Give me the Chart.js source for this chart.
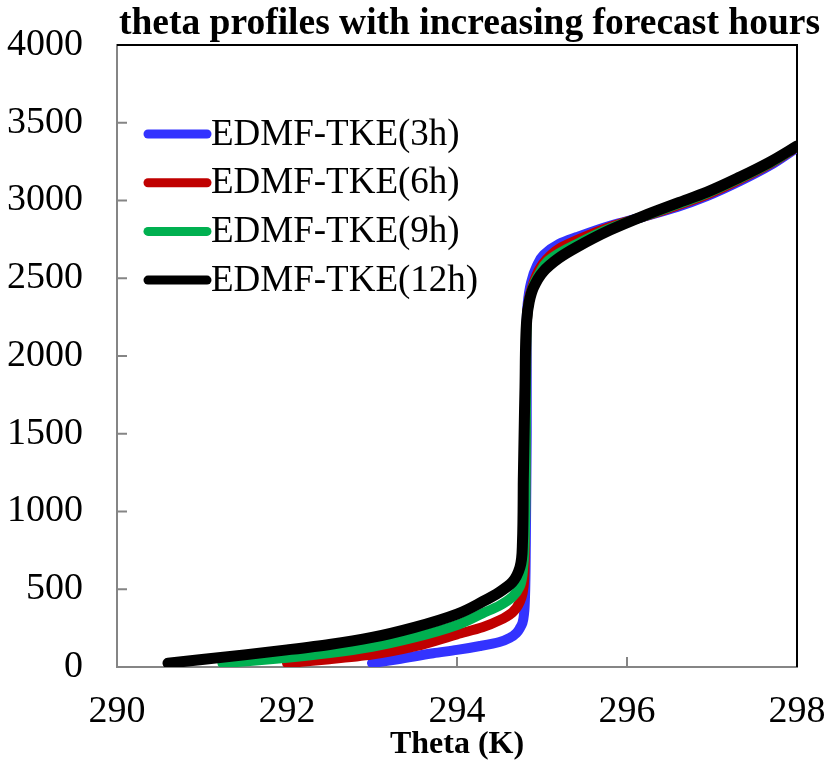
<!DOCTYPE html>
<html>
<head>
<meta charset="utf-8">
<script src="https://cdn.jsdelivr.net/npm/chart.js@4.4.1/dist/chart.umd.min.js"></script>
<style>
  html, body { margin: 0; padding: 0; background: #fff; }
  #wrap { width: 825px; height: 761px; position: relative; }
</style>
</head>
<body>
<div id="wrap"><canvas id="thetaChart"></canvas></div>
<script>
// profiles: theta (K) against height (m)
const seriesNames  = ['EDMF-TKE(3h)', 'EDMF-TKE(6h)', 'EDMF-TKE(9h)', 'EDMF-TKE(12h)'];
const seriesColors = ['#3333ff', '#c00000', '#00b050', '#000000'];

const theta3h  = [293.0,293.3,293.72,294.0,294.27,294.5,294.63,294.7,294.74,294.77,294.79,294.8,294.81,294.82,294.82,294.82,294.83,294.87,294.94,295.02,295.2,295.41,295.8,296.19,296.59,296.94,297.33,297.68,298.0];
const height3h = [25,50,88,110,135,161,190,219,250,283,350,450,800,1500,2150,2200,2330,2470,2580,2650,2720,2765,2838,2895,2958,3028,3125,3225,3340];

const theta6h  = [292.0,292.5,293.0,293.5,294.0,294.3,294.5,294.65,294.74,294.79,294.8,294.81,294.82,294.85,294.9,294.97,295.05,295.2,295.41,295.8,296.19,296.59,296.94,297.33,297.68,298.0];
const height6h = [25,50,80,132,210,255,300,350,420,560,900,1500,2200,2370,2470,2560,2620,2690,2745,2830,2895,2968,3038,3136,3235,3345];

const theta9h  = [291.24,291.6,292.0,292.5,293.0,293.5,294.0,294.3,294.5,294.65,294.74,294.78,294.8,294.81,294.82,294.85,294.9,294.98,295.05,295.2,295.41,295.8,296.19,296.59,296.94,297.33,297.68,298.0];
const height9h = [25,40,60,90,130,190,270,345,395,450,520,650,900,1500,2200,2360,2455,2540,2600,2660,2720,2820,2897,2975,3046,3143,3240,3348];

const theta12h  = [290.6,291.0,291.5,292.0,292.5,293.0,293.5,294.0,294.3,294.5,294.65,294.74,294.77,294.78,294.8,294.82,294.85,294.9,295.01,295.2,295.41,295.8,296.19,296.59,296.94,297.33,297.68,298.0];
const height12h = [25,48,78,110,145,190,255,340,420,482,545,640,800,1200,1800,2230,2350,2440,2540,2630,2700,2810,2900,2983,3054,3151,3247,3350];

const xTickVals = [290, 292, 294, 296, 298];
const yTickVals = [0, 500, 1000, 1500, 2000, 2500, 3000, 3500, 4000];

const SERIF = "'Liberation Serif', 'Times New Roman', serif";
const AXIS_GREY = '#858585';

function toPoints(th, hg) {
  return th.map((t, i) => ({ x: t, y: hg[i] }));
}

const profiles = [
  [theta3h, height3h],
  [theta6h, height6h],
  [theta9h, height9h],
  [theta12h, height12h]
];

const datasets = profiles.map((p, i) => ({
  label: seriesNames[i],
  data: toPoints(p[0], p[1]),
  borderColor: seriesColors[i],
  backgroundColor: seriesColors[i],
  borderWidth: i === 3 ? 11 : 10,
  borderCapStyle: 'round',
  borderJoinStyle: 'round',
  pointRadius: 0,
  cubicInterpolationMode: 'monotone',
  fill: false,
  order: 4 - i   // 12h ends up on top
}));

// box: grey left/bottom axes, black top/right edges, inward tick marks
const framePlugin = {
  id: 'frame',
  beforeDatasetsDraw(chart) {
    const { ctx, chartArea: a, scales } = chart;
    ctx.save();
    ctx.lineWidth = 2;
    ctx.strokeStyle = AXIS_GREY;
    ctx.beginPath();
    xTickVals.forEach(v => {
      const px = scales.x.getPixelForValue(v);
      if (px <= a.left + 1 || px >= a.right - 1) return;
      ctx.moveTo(px, a.bottom);
      ctx.lineTo(px, a.bottom - 10);
    });
    yTickVals.forEach(v => {
      const py = scales.y.getPixelForValue(v);
      if (py >= a.bottom - 1 || py <= a.top + 1) return;
      ctx.moveTo(a.left, py);
      ctx.lineTo(a.left + 10, py);
    });
    ctx.stroke();
    ctx.strokeStyle = '#000';
    ctx.beginPath();
    ctx.moveTo(a.left, a.top);
    ctx.lineTo(a.right, a.top);
    ctx.lineTo(a.right, a.bottom);
    ctx.stroke();
    ctx.restore();
  }
};

const titlePlugin = {
  id: 'topTitle',
  afterDraw(chart) {
    const ctx = chart.ctx;
    ctx.save();
    ctx.font = 'bold 37.5px ' + SERIF;
    ctx.fillStyle = '#000';
    ctx.textAlign = 'right';
    ctx.textBaseline = 'alphabetic';
    ctx.fillText('theta profiles with increasing forecast hours', 820, 34);
    ctx.restore();
  }
};

const legendPlugin = {
  id: 'innerLegend',
  afterDraw(chart) {
    const { ctx, chartArea: a } = chart;
    const x0 = a.left + 31, x1 = a.left + 90;
    const y0 = a.top + 89, gap = 48.7;
    ctx.save();
    ctx.font = '37px ' + SERIF;
    ctx.textBaseline = 'middle';
    ctx.textAlign = 'left';
    chart.data.datasets.forEach((ds, i) => {
      const y = y0 + i * gap;
      ctx.strokeStyle = ds.borderColor;
      ctx.lineWidth = 9;
      ctx.lineCap = 'round';
      ctx.beginPath();
      ctx.moveTo(x0, y);
      ctx.lineTo(x1, y);
      ctx.stroke();
      ctx.fillStyle = '#000';
      ctx.fillText(ds.label, x1 + 4, y + 1);
    });
    ctx.restore();
  }
};

new Chart(document.getElementById('thetaChart'), {
  type: 'line',
  data: { datasets },
  options: {
    indexAxis: 'y',   // height is the independent coordinate
    responsive: true,
    maintainAspectRatio: false,
    animation: false,
    layout: { padding: { top: 45, right: 28, left: 0, bottom: 0 } },
    plugins: {
      legend: { display: false },
      title: { display: false },
      tooltip: { enabled: false }
    },
    scales: {
      x: {
        type: 'linear',
        min: 290,
        max: 298,
        afterBuildTicks: s => { s.ticks = xTickVals.map(v => ({ value: v })); },
        afterFit: s => { s.height = 94; s.paddingLeft = 0; s.paddingRight = 0; },
        grid: { display: false, drawTicks: true, tickLength: 22 },
        border: { display: true, color: AXIS_GREY, width: 2 },
        ticks: {
          color: '#000',
          font: { family: SERIF, size: 38 },
          padding: 0,
          maxRotation: 0,
          callback: v => String(v)
        },
        title: {
          display: true,
          text: 'Theta (K)',
          color: '#000',
          font: { family: SERIF, size: 32, weight: 'bold', lineHeight: 1 },
          padding: { top: 0, bottom: 0 }
        }
      },
      y: {
        type: 'linear',
        min: 0,
        max: 4000,
        afterBuildTicks: s => { s.ticks = yTickVals.map(v => ({ value: v })); },
        afterFit: s => { s.width = 117; s.paddingTop = 0; s.paddingBottom = 0; },
        grid: { display: false, drawTicks: true, tickLength: 34 },
        border: { display: true, color: AXIS_GREY, width: 2 },
        ticks: {
          color: '#000',
          font: { family: SERIF, size: 38 },
          padding: 0,
          callback: v => String(v)
        }
      }
    }
  },
  plugins: [framePlugin, titlePlugin, legendPlugin]
});
</script>
</body>
</html>
